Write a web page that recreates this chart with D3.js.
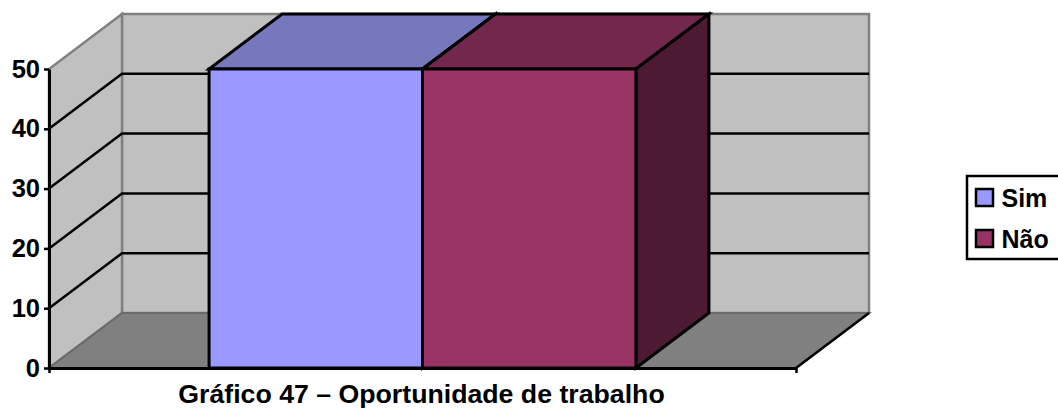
<!DOCTYPE html>
<html>
<head>
<meta charset="utf-8">
<script src="https://cdn.jsdelivr.net/npm/d3@7"></script>
<style>
  html, body { margin: 0; padding: 0; background: #fff; overflow: hidden; }
  text { font-family: "Liberation Sans", Arial, sans-serif; font-weight: bold; fill: #000; }
</style>
</head>
<body>
<div id="chart"></div>
<script>
const series = ["Sim", "Não"];
const values = [50, 50];
const yTicks = [0, 10, 20, 30, 40, 50];
const frontColors = ["#9999FF", "#993366"];
const topColors = ["#7777BD", "#72274C"];
const sideColors = ["#4D1A33", "#4D1A33"];
const title = "Gráfico 47 – Oportunidade de trabalho";

const width = 1058, height = 409;
const plot = {left: 49, right: 796, bottom: 368, top: 69};
// desplazamiento de la profundidad 3D
const depthX = 73, depthY = -55;

const x = d3.scaleBand().domain(series).range([plot.left, plot.right]).paddingInner(0).paddingOuter(0.75);
const y = d3.scaleLinear().domain([0, 50]).range([plot.bottom, plot.top]);
const xEnds = d3.scaleLinear().domain([0, 1]).range([plot.left, plot.right]);

const poly = pts => pts.map(p => p.join(",")).join(" ");
const back = ([px, py]) => [px + depthX, py + depthY];

const svg = d3.select("#chart").append("svg")
    .attr("width", width)
    .attr("height", height)
    .style("display", "block");

// paredes
const wallBack = [[plot.left, y(50)], [plot.right, y(50)], [plot.right, y(0)], [plot.left, y(0)]].map(back);
const wallLeft = [[plot.left, y(0)], [plot.left, y(50)], back([plot.left, y(50)]), back([plot.left, y(0)])];
const floor = [[plot.left, y(0)], [plot.right, y(0)], back([plot.right, y(0)]), back([plot.left, y(0)])];

svg.append("polygon").attr("points", poly(wallBack))
    .attr("fill", "#C0C0C0").attr("stroke", "#808080").attr("stroke-width", 2.5);
svg.append("polygon").attr("points", poly(wallLeft))
    .attr("fill", "#C0C0C0").attr("stroke", "#808080").attr("stroke-width", 2.5);
svg.append("polygon").attr("points", poly(floor))
    .attr("fill", "#808080").attr("stroke", "#6a6a6a").attr("stroke-width", 2);

// lineas de la cuadricula
const grid = svg.append("g").attr("stroke", "#000").attr("stroke-width", 2.5).attr("fill", "none");
yTicks.filter(d => d > 0 && d < 50).forEach(d => {
  grid.append("polyline").attr("points", poly([[plot.left, y(d)], back([plot.left, y(d)]), back([plot.right, y(d)])]));
});

// borde del suelo
svg.append("line")
    .attr("x1", plot.right).attr("y1", y(0))
    .attr("x2", plot.right + depthX).attr("y2", y(0) + depthY)
    .attr("stroke", "#000").attr("stroke-width", 2.5);

// barras
const bars = svg.append("g").attr("stroke", "#000").attr("stroke-width", 3).attr("stroke-linejoin", "miter");
series.forEach((s, i) => {
  const x0 = x(s), x1 = x(s) + x.bandwidth(), y0 = y(0), y1 = y(values[i]);
  bars.append("polygon").attr("points", poly([[x0, y1], [x1, y1], back([x1, y1]), back([x0, y1])])).attr("fill", topColors[i]);
  bars.append("polygon").attr("points", poly([[x1, y0], [x1, y1], back([x1, y1]), back([x1, y0])])).attr("fill", sideColors[i]);
});
series.forEach((s, i) => {
  bars.append("rect")
      .attr("x", x(s))
      .attr("y", y(values[i]))
      .attr("width", x.bandwidth())
      .attr("height", y(0) - y(values[i]))
      .attr("fill", frontColors[i]);
});

// ejes
const yAxis = svg.append("g")
    .attr("transform", `translate(${plot.left},0)`)
    .call(d3.axisLeft(y).tickValues(yTicks).tickSize(5).tickSizeOuter(0).tickPadding(4));
yAxis.selectAll("line").attr("stroke", "#000").attr("stroke-width", 2.5);
yAxis.select(".domain").attr("stroke", "#000").attr("stroke-width", 3);
yAxis.attr("font-family", null).attr("font-size", null);
yAxis.selectAll("text").attr("font-size", 25.5);

const xAxis = svg.append("g")
    .attr("transform", `translate(0,${plot.bottom})`)
    .call(d3.axisBottom(xEnds).tickValues([0, 1]).tickFormat(() => "").tickSize(5).tickSizeOuter(0));
xAxis.selectAll("line").attr("stroke", "#000").attr("stroke-width", 2.5);
xAxis.select(".domain").attr("stroke", "#000").attr("stroke-width", 3);

// titulo
svg.append("text")
    .attr("x", 421.5)
    .attr("y", 403.2)
    .attr("text-anchor", "middle")
    .attr("font-size", 26.7)
    .text(title);

// leyenda
const legend = svg.append("g");
legend.append("rect")
    .attr("x", 967).attr("y", 176)
    .attr("width", 100).attr("height", 83)
    .attr("fill", "#fff").attr("stroke", "#000").attr("stroke-width", 2.5);
const legendY = d3.scalePoint().domain(series).range([197.5, 238.5]);
series.forEach((s, i) => {
  legend.append("rect")
      .attr("x", 976).attr("y", legendY(s) - 8.5)
      .attr("width", 17).attr("height", 17)
      .attr("fill", frontColors[i]).attr("stroke", "#000").attr("stroke-width", 2.5);
  legend.append("text")
      .attr("x", 1001.5).attr("y", legendY(s) + 9.5)
      .attr("font-size", 25)
      .text(s);
});
</script>
</body>
</html>
